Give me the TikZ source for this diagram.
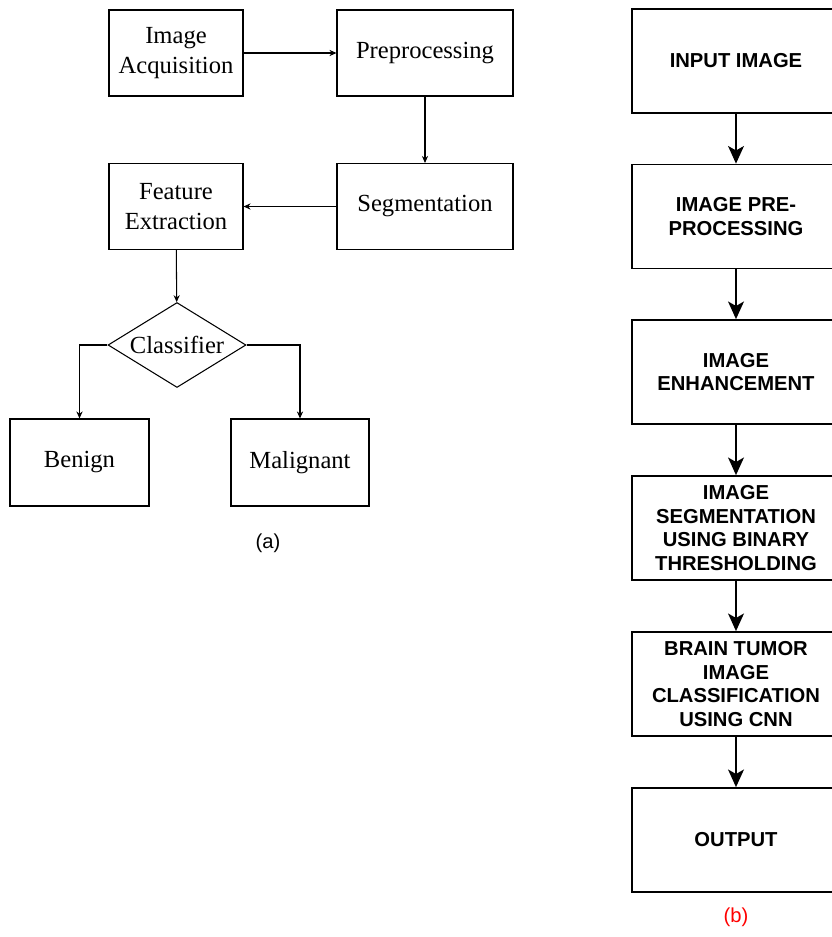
\documentclass[tikz,border=0pt]{standalone}
\usepackage{fontspec}
\setmainfont{Liberation Serif}
\newfontfamily\headsans{Liberation Sans}
\usetikzlibrary{arrows.meta,shapes.geometric,positioning}

\begin{document}
\begin{tikzpicture}[x=0.02cm, y=-0.02cm,
  blockA/.style={draw, line width=0.6pt, align=center, inner sep=1pt, minimum width=#1, minimum height=1.72cm, font=\fontsize{14}{17}\selectfont},
  blockB/.style={draw, line width=1pt, align=center, inner sep=1pt, minimum width=4.16cm, minimum height=2.08cm, font=\headsans\bfseries\fontsize{11.5}{13.6}\selectfont},
  decide/.style={draw, diamond, aspect=1.62, line width=0.6pt, inner sep=0pt, minimum width=2.76cm, minimum height=1.7cm, font=\fontsize{14}{17}\selectfont},
  arrA/.style={-{Stealth[length=4pt,width=3.5pt]}, line width=0.6pt},
  arrB/.style={-{Stealth[length=10pt,width=9pt,inset=2.5pt]}, line width=1.1pt},
  caption/.style={font=\headsans\fontsize{11.5}{14}\selectfont},
]
\useasboundingbox (0,0) rectangle (832,937);
% (a) left pipeline
\node[blockA=2.68cm] (acq) at (176,53) {Image\\Acquisition};
\node[blockA=3.52cm] (prep) at (425,53) {Preprocessing};
\node[blockA=3.52cm] (seg) at (425,206.5) {Segmentation};
\node[blockA=2.68cm] (feat) at (176,206.5) {Feature\\Extraction};
\node[decide] (clf) at (177,345) {Classifier};
\node[blockA=2.78cm, minimum height=1.74cm] (benign) at (79.5,462.5) {Benign};
\node[blockA=2.76cm, minimum height=1.74cm] (malig) at (300,462.5) {Malignant};
\node[caption] (capa) at (268,543) {(a)};
\draw[arrA] (acq) -- (prep);
\draw[arrA] (prep) -- (seg);
\draw[arrA] (seg) -- (feat);
\draw[arrA] (feat) -- (clf);
\draw[arrA] (clf.west) -| (benign.north);
\draw[arrA] (clf.east) -| (malig.north);
% (b) right pipeline
\node[blockB] (input) at (736,61) {INPUT IMAGE};
\node[blockB] (imgpre) at (736,216.5) {IMAGE PRE-\\PROCESSING};
\node[blockB] (enh) at (736,372) {IMAGE\\ENHANCEMENT};
\node[blockB] (thresh) at (736,528) {IMAGE\\SEGMENTATION\\USING BINARY\\THRESHOLDING};
\node[blockB] (cnn) at (736,684) {BRAIN TUMOR\\IMAGE\\CLASSIFICATION\\USING CNN};
\node[blockB] (out) at (736,840) {OUTPUT};
\node[caption, text=red] (capb) at (736,917) {(b)};
\draw[arrB] (input) -- (imgpre);
\draw[arrB] (imgpre) -- (enh);
\draw[arrB] (enh) -- (thresh);
\draw[arrB] (thresh) -- (cnn);
\draw[arrB] (cnn) -- (out);
\end{tikzpicture}
\end{document}
